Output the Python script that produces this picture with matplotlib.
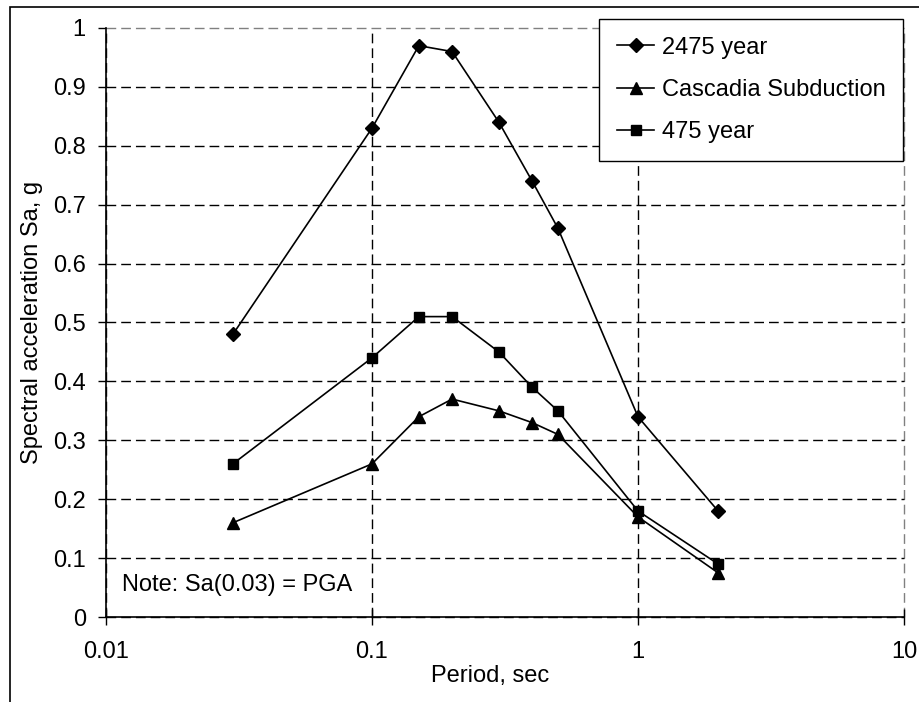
import numpy as np
import matplotlib.pyplot as plt
from matplotlib.patches import Rectangle

plt.rcParams['font.family'] = ['Liberation Sans', 'DejaVu Sans']

period = [0.03, 0.1, 0.15, 0.2, 0.3, 0.4, 0.5, 1.0, 2.0]
sa_2475 = [0.48, 0.83, 0.97, 0.96, 0.84, 0.74, 0.66, 0.34, 0.18]
sa_cascadia = [0.16, 0.26, 0.34, 0.37, 0.35, 0.33, 0.31, 0.17, 0.075]
sa_475 = [0.26, 0.44, 0.51, 0.51, 0.45, 0.39, 0.35, 0.18, 0.09]

yticks = [0, 0.1, 0.2, 0.3, 0.4, 0.5, 0.6, 0.7, 0.8, 0.9, 1]
ytick_labels = ['0', '0.1', '0.2', '0.3', '0.4', '0.5', '0.6', '0.7', '0.8', '0.9', '1']
xticks = [0.01, 0.1, 1, 10]
xtick_labels = ['0.01', '0.1', '1', '10']

FS = 17
W, H = 920, 702
fig = plt.figure(figsize=(W/100, H/100), dpi=100)
ax = fig.add_axes([106/W, 1-617/H, (904-106)/W, (617-28)/H])

# outer chart frame, runs off the right and bottom edge
fig.patches.append(Rectangle((10/W, -0.05), 1.0, 1-7/H+0.05, transform=fig.transFigure,
                             fill=False, edgecolor='black', lw=1.2))

ax.plot(period, sa_2475, color='black', lw=1.2, marker='D', ms=7, label='2475 year')
ax.plot(period, sa_cascadia, color='black', lw=1.2, marker='^', ms=9, label='Cascadia Subduction')
ax.plot(period, sa_475, color='black', lw=1.2, marker='s', ms=7.5, label='475 year')

ax.set_xscale('log')
ax.set_xlim(0.01, 10)
ax.set_ylim(0, 1)
ax.set_xticks(xticks)
ax.set_xticklabels(xtick_labels)
ax.set_yticks(yticks)
ax.set_yticklabels(ytick_labels)
ax.minorticks_off()
ax.tick_params(axis='both', labelsize=FS, length=6, width=1, color='black')
ax.tick_params(axis='x', direction='inout', length=12, pad=11)
ax.tick_params(axis='y', direction='out', pad=8.5)

ax.grid(True, which='major', color='black', lw=1, linestyle=(0, (7, 3.6)))
for gl in ax.get_xgridlines() + ax.get_ygridlines():
    gl.set_clip_on(False)
# the top and right grid lines double as the plot border, drawn grey
ax.get_ygridlines()[-1].set_color('#808080')
ax.get_xgridlines()[-1].set_color('#808080')
ax.spines['top'].set_visible(False)
ax.spines['right'].set_visible(False)
ax.spines['left'].set_linewidth(1.2)
ax.spines['bottom'].set_linewidth(1.2)

ax.set_xlabel('Period, sec', fontsize=FS)
ax.xaxis.set_label_coords((490-106)/798, -(676-617)/589)
ax.xaxis.label.set_va('center')
ax.set_ylabel('Spectral acceleration Sa, g', fontsize=FS)
ax.yaxis.set_label_coords(-(106-32)/798, 0.5)
ax.yaxis.label.set_va('center')

ax.text(0.0115, 0.054, 'Note: Sa(0.03) = PGA', fontsize=FS, va='center', ha='left',
        bbox=dict(facecolor='white', edgecolor='none', pad=1), zorder=3)

leg = ax.legend(loc='upper right', bbox_to_anchor=(903/W, 1-19/H), bbox_transform=fig.transFigure,
                fontsize=FS, frameon=True, fancybox=False, edgecolor='black',
                borderpad=0.75, labelspacing=0.85, handlelength=1.6, handletextpad=0.3,
                borderaxespad=0)
leg.get_frame().set_linewidth(1)
leg.get_frame().set_alpha(1)

fig.savefig('out.png', dpi=100)
